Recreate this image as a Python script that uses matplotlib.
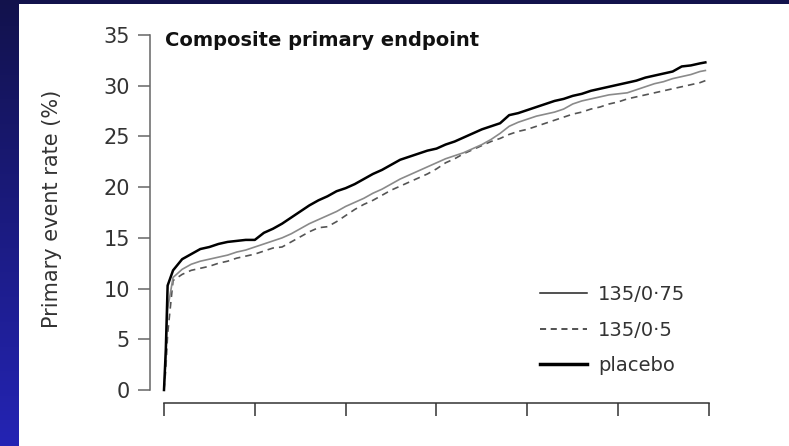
import numpy as np
import matplotlib
matplotlib.use("Agg")
import matplotlib.pyplot as plt
from matplotlib.lines import Line2D
from matplotlib.patches import Rectangle

# follow-up time in tick units (axis has 6 unlabelled intervals)
time = [0, 0.02, 0.04, 0.1, 0.2, 0.3, 0.4, 0.5, 0.6, 0.7, 0.8, 0.9,
        1.0, 1.1, 1.2, 1.3, 1.4, 1.5, 1.6, 1.7, 1.8, 1.9,
        2.0, 2.1, 2.2, 2.3, 2.4, 2.5, 2.6, 2.7, 2.8, 2.9,
        3.0, 3.1, 3.2, 3.3, 3.4, 3.5, 3.6, 3.7, 3.8, 3.9,
        4.0, 4.1, 4.2, 4.3, 4.4, 4.5, 4.6, 4.7, 4.8, 4.9,
        5.0, 5.1, 5.2, 5.3, 5.4, 5.5, 5.6, 5.7, 5.8, 5.9, 5.96]

placebo = [0, 4, 10.3, 11.8, 12.9, 13.4, 13.9, 14.1, 14.4, 14.6, 14.7, 14.8,
           14.8, 15.5, 15.9, 16.4, 17.0, 17.6, 18.2, 18.7, 19.1, 19.6,
           19.9, 20.3, 20.8, 21.3, 21.7, 22.2, 22.7, 23.0, 23.3, 23.6,
           23.8, 24.2, 24.5, 24.9, 25.3, 25.7, 26.0, 26.3, 27.1, 27.3,
           27.6, 27.9, 28.2, 28.5, 28.7, 29.0, 29.2, 29.5, 29.7, 29.9,
           30.1, 30.3, 30.5, 30.8, 31.0, 31.2, 31.4, 31.9, 32.0, 32.2, 32.3]

dose_075 = [0, 3, 8.0, 11.1, 11.9, 12.4, 12.7, 12.9, 13.1, 13.3, 13.6, 13.8,
            14.1, 14.4, 14.7, 15.0, 15.4, 15.9, 16.4, 16.8, 17.2, 17.6,
            18.1, 18.5, 18.9, 19.4, 19.8, 20.3, 20.8, 21.2, 21.6, 22.0,
            22.4, 22.8, 23.1, 23.4, 23.8, 24.2, 24.7, 25.3, 26.0, 26.4,
            26.7, 27.0, 27.2, 27.4, 27.7, 28.2, 28.5, 28.7, 28.9, 29.1,
            29.2, 29.3, 29.6, 29.9, 30.2, 30.4, 30.7, 30.9, 31.1, 31.4, 31.5]

dose_05 = [0, 2, 5.5, 10.8, 11.4, 11.8, 12.0, 12.2, 12.5, 12.7, 13.0, 13.2,
           13.4, 13.7, 14.0, 14.1, 14.6, 15.1, 15.6, 16.0, 16.1, 16.6,
           17.2, 17.8, 18.3, 18.7, 19.2, 19.7, 20.1, 20.5, 20.9, 21.3,
           21.8, 22.4, 22.8, 23.3, 23.7, 24.1, 24.5, 24.8, 25.2, 25.5,
           25.7, 26.0, 26.3, 26.6, 26.9, 27.2, 27.4, 27.7, 27.9, 28.2,
           28.4, 28.7, 28.9, 29.1, 29.3, 29.5, 29.7, 29.9, 30.1, 30.3, 30.5]

y_ticks = [0, 5, 10, 15, 20, 25, 30, 35]
x_ticks = [0, 1, 2, 3, 4, 5, 6]
labels = ["135/0\u00b775", "135/0\u00b75", "placebo"]

W, H = 789, 446
fig = plt.figure(figsize=(W / 100, H / 100), dpi=100)

# slide background: blue gradient, white panel on top
bg = fig.add_axes([0, 0, 1, 1])
grad = np.linspace(0, 1, 256).reshape(-1, 1)
cmap = matplotlib.colors.LinearSegmentedColormap.from_list("slide", ["#12124c", "#2424b4"])
bg.imshow(grad, aspect="auto", cmap=cmap, extent=[0, 1, 0, 1], origin="upper")
bg.axis("off")
fig.patches.append(Rectangle((19 / W, 0), 1, 1 - 4 / H, transform=fig.transFigure,
                             facecolor="white", edgecolor="none", zorder=1))

ax = fig.add_axes([150 / W, 1 - 403 / H, 559 / W, 368 / H], zorder=2)
ax.patch.set_alpha(0)

ax.plot(time, dose_05, color="#555555", lw=1.2, ls=(0, (4, 3)))
ax.plot(time, dose_075, color="#8a8a8a", lw=1.2)
ax.plot(time, placebo, color="black", lw=1.8)

ax.set_xlim(-0.154, 6.0)
ax.set_ylim(-1.28, 35)
ax.spines["top"].set_visible(False)
ax.spines["right"].set_visible(False)
ax.spines["left"].set_bounds(0, 35)
ax.spines["bottom"].set_bounds(0, 6)
ax.spines["left"].set_color("#666666")
ax.spines["bottom"].set_color("#333333")
ax.spines["left"].set_linewidth(1.1)
ax.spines["bottom"].set_linewidth(1.1)

ax.set_yticks(y_ticks)
ax.set_xticks(x_ticks)
ax.set_xticklabels([])
ax.tick_params(axis="y", length=8.5, width=1.1, color="#666666", labelsize=15,
               labelcolor="#333333", pad=6)
ax.tick_params(axis="x", length=9, width=1.1, color="#333333")

fig.text(52 / W, 1 - 209 / H, "Primary event rate (%)", rotation=90, fontsize=15,
         color="#333333", ha="center", va="center")
fig.text(165 / W, 1 - 41 / H, "Composite primary endpoint", fontsize=14,
         fontweight="bold", color="#111111", ha="left", va="center")

handles = [Line2D([], [], color="#222222", lw=1.1),
           Line2D([], [], color="#222222", lw=1.1, ls=(0, (4, 3))),
           Line2D([], [], color="black", lw=2.5)]
ax.legend(handles, labels, loc="upper left", frameon=False, fontsize=14,
          bbox_to_anchor=(540 / W, 1 - 285 / H), bbox_transform=fig.transFigure,
          borderpad=0, borderaxespad=0, handlelength=2.4, handletextpad=0.6,
          labelspacing=0.85, labelcolor="#333333")

fig.savefig("out.png", dpi=100)
